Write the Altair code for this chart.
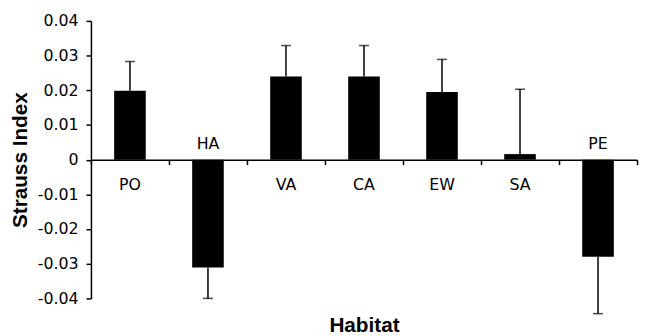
import altair as alt
import pandas as pd

habitat = ["PO", "HA", "VA", "CA", "EW", "SA", "PE"]
strauss = [0.0199, -0.0311, 0.0240, 0.0240, 0.0195, 0.0016, -0.0280]
err_end = [0.0283, -0.0400, 0.0329, 0.0329, 0.0289, 0.0203, -0.0444]
y_ticks = [-0.04, -0.03, -0.02, -0.01, 0.0, 0.01, 0.02, 0.03, 0.04]

df = pd.DataFrame({"habitat": habitat, "value": strauss, "err": err_end})

LFONT = "DejaVu Sans"
TFONT = "Liberation Sans"

x_enc = alt.X(
    "habitat:N",
    sort=habitat,
    scale=alt.Scale(paddingInner=0, paddingOuter=0),
    axis=alt.Axis(
        title="Habitat",
        labels=False,
        offset=-140.5,
        tickBand="extent",
        tickSize=5,
        tickWidth=1.5,
        domainWidth=1.5,
        domainColor="black",
        tickColor="black",
        titleFont=TFONT,
        titleFontSize=21,
        titleFontWeight="bold",
        titleColor="black",
        titleBaseline="alphabetic",
        titleY=174,
    ),
)

y_scale = alt.Scale(domain=[-0.04, 0.04], nice=False)
y_axis = alt.Axis(
    title="Strauss Index",
    values=y_ticks,
    tickCount=20,
    labelExpr="abs(datum.value) < 1e-9 ? '0' : (datum.value < 0 ? '-' : '') + format(abs(datum.value), '.2f')",
    labelOverlap=False,
    grid=False,
    tickSize=5,
    tickWidth=1.5,
    domainWidth=1.5,
    domainColor="black",
    tickColor="black",
    labelFont=LFONT,
    labelFontSize=16,
    labelColor="black",
    labelPadding=8,
    titleFont=TFONT,
    titleFontSize=21,
    titleFontWeight="bold",
    titleColor="black",
    titlePadding=7,
)

base = alt.Chart(df).encode(x=x_enc)

bars = base.mark_bar(size=32, color="black").encode(
    y=alt.Y("value:Q", scale=y_scale, axis=y_axis)
)
rules = base.mark_rule(color="black", strokeWidth=1.5).encode(
    y=alt.Y("value:Q", scale=y_scale, axis=y_axis), y2="err:Q"
)
caps = base.mark_tick(color="black", size=10, thickness=1.5, orient="horizontal").encode(
    y=alt.Y("err:Q", scale=y_scale, axis=y_axis)
)
lab_pos = base.transform_filter("datum.value >= 0").mark_text(
    font=LFONT, fontSize=16, color="black", dy=26, baseline="middle"
).encode(y=alt.datum(0), text="habitat:N")
lab_neg = base.transform_filter("datum.value < 0").mark_text(
    font=LFONT, fontSize=16, color="black", dy=-16, baseline="middle"
).encode(y=alt.datum(0), text="habitat:N")

chart = (
    alt.layer(bars, rules, caps, lab_pos, lab_neg)
    .properties(
        width=553,
        height=281,
        autosize=alt.AutoSizeParams(type="none"),
        padding={"left": 84, "top": 11, "right": 3, "bottom": 36},
    )
    .configure_view(stroke=None)
)

chart.save("out.html", embed_options={"renderer": "svg", "actions": False})
